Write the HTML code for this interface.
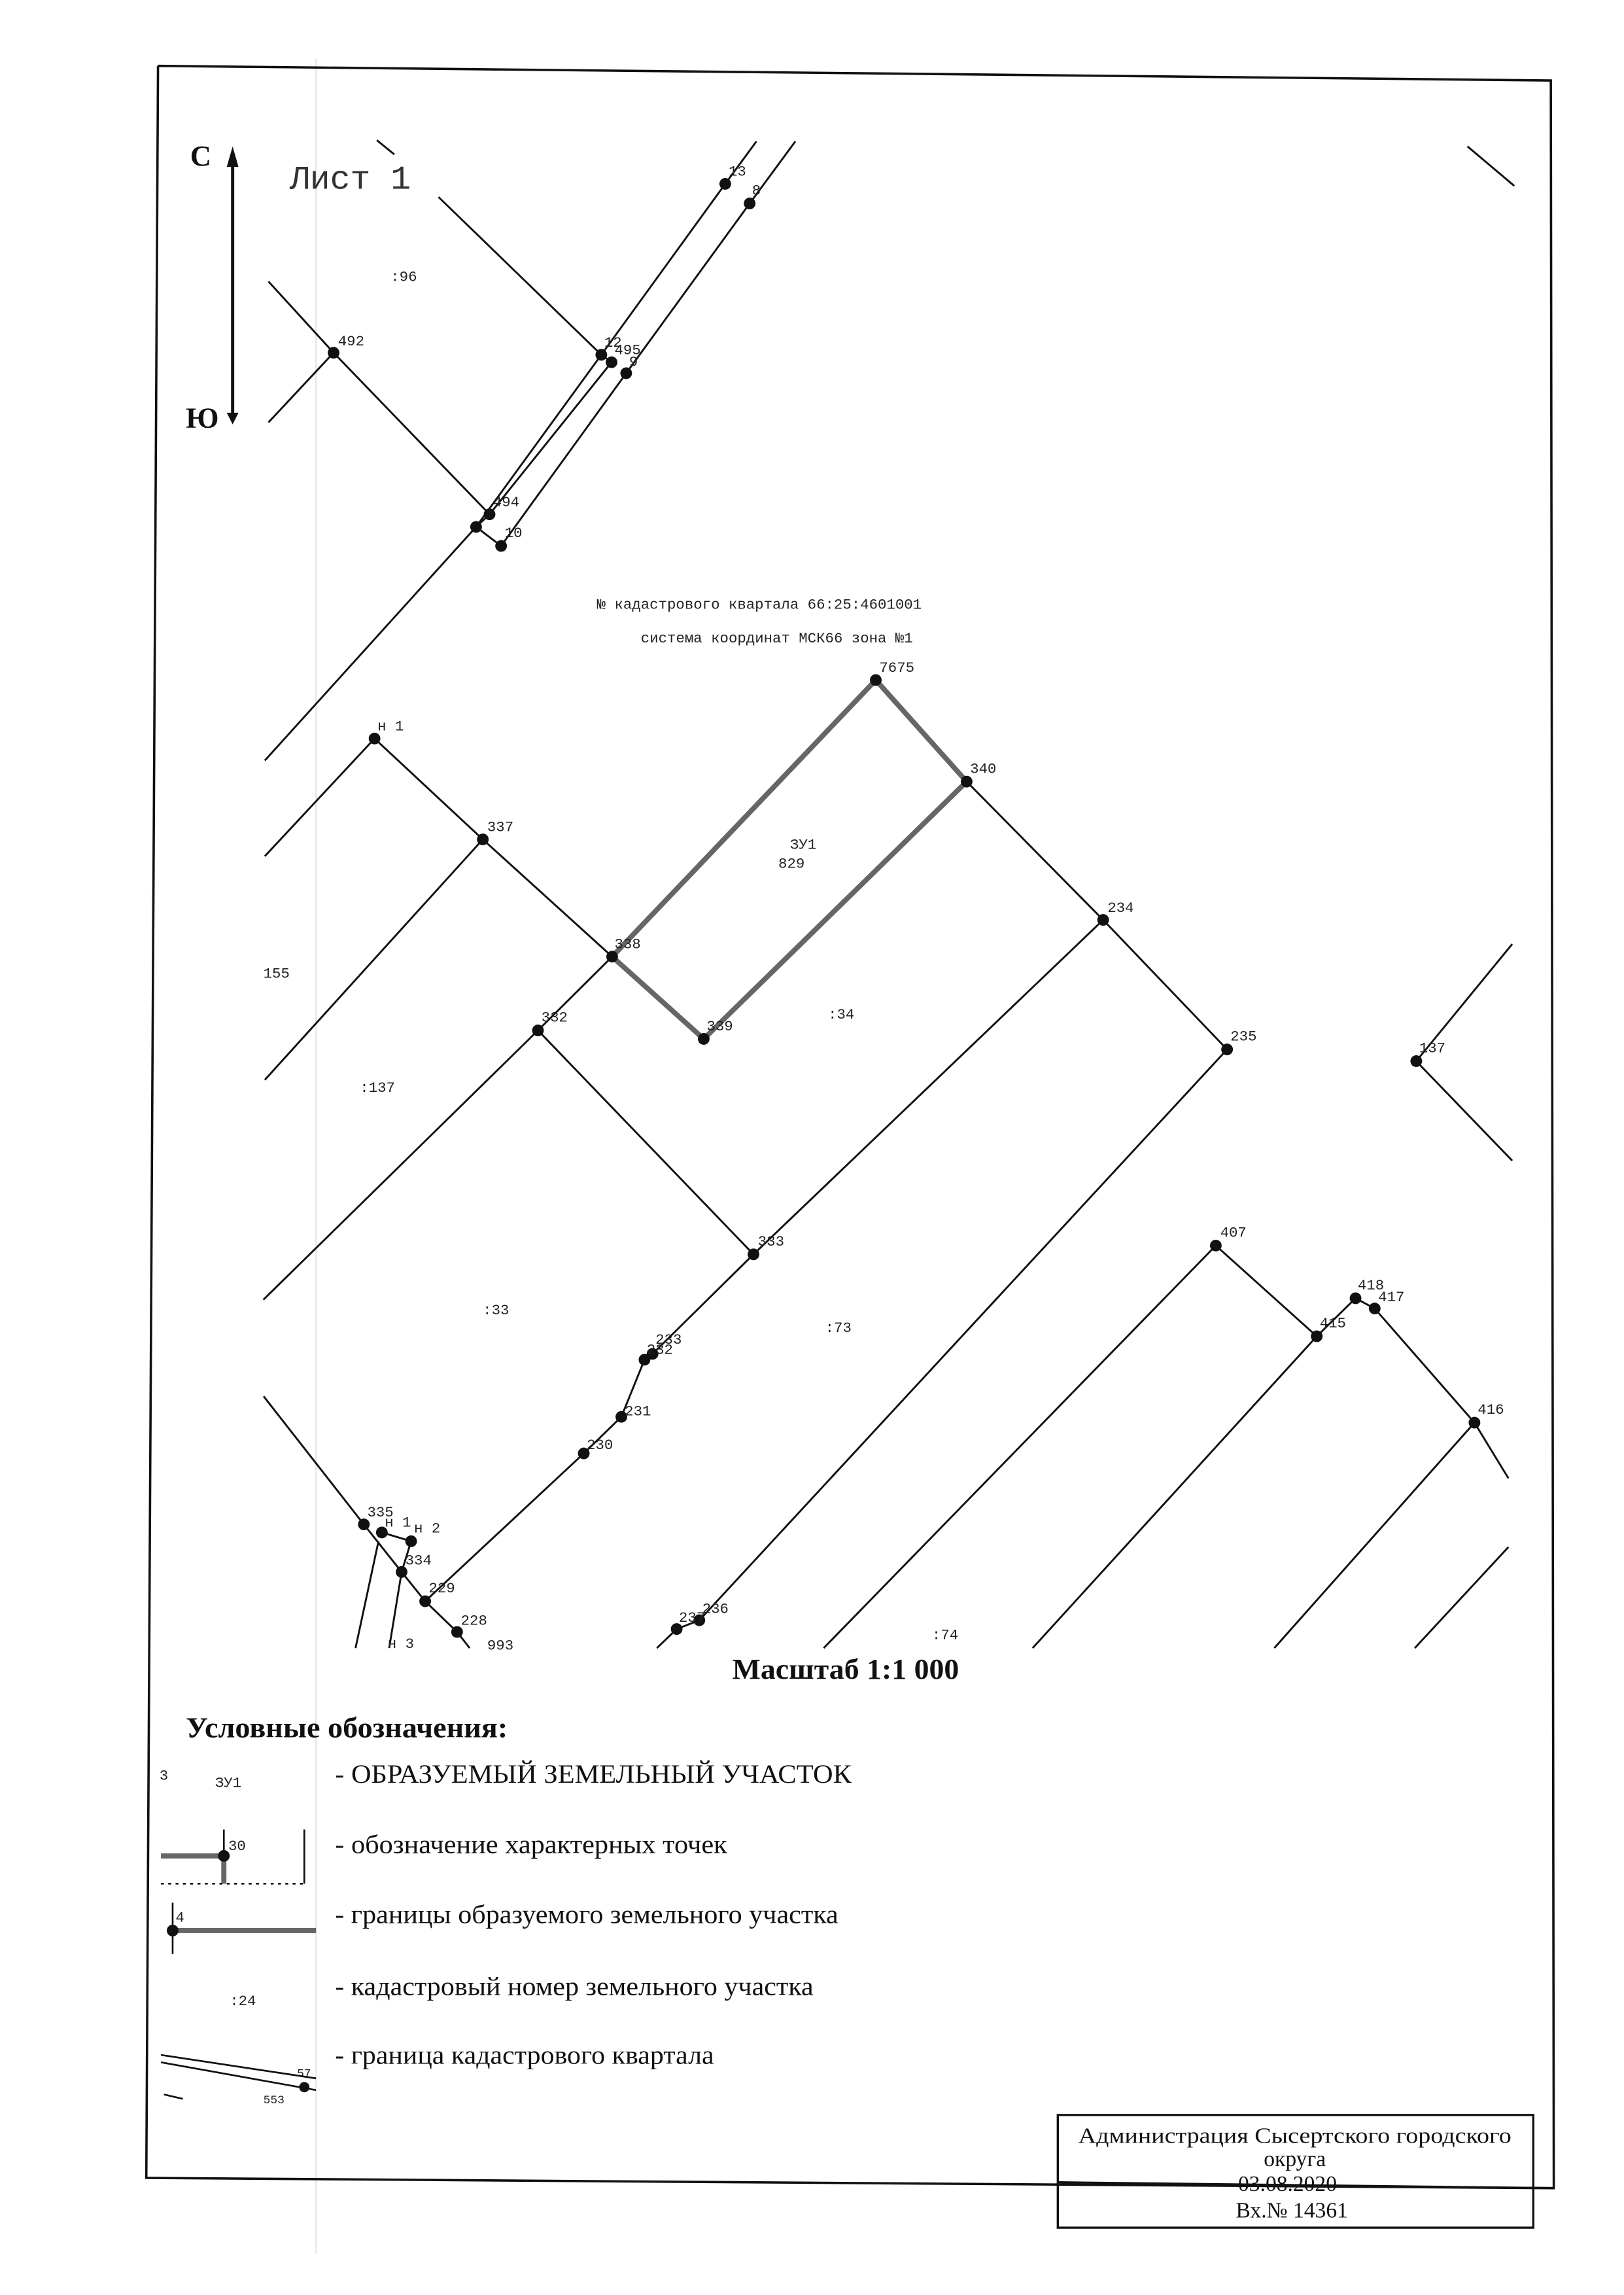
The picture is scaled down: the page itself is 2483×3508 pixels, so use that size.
<!DOCTYPE html>
<html><head><meta charset="utf-8"><style>
html,body{margin:0;padding:0;background:#fff;}
svg{display:block;}
.m{font-family:"Liberation Mono",monospace;font-size:10px;fill:#222;}
.s{font-family:"Liberation Serif",serif;fill:#111;}
</style></head><body>
<svg width="2483" height="3508" viewBox="0 0 1110 1568" preserveAspectRatio="none" xmlns="http://www.w3.org/2000/svg">
<rect width="1110" height="1568" fill="#fff"/>
<line x1="216" y1="40" x2="216" y2="1540" stroke="#e6e6e6" stroke-width="1"/>
<g stroke="#111" fill="none" stroke-width="1.6">
<polyline points="108,45 1060,55 1062,1495 100,1488 108,45"/>
</g>
<line x1="159" y1="108" x2="159" y2="284" stroke="#111" stroke-width="2.2"/>
<polygon points="159,100 155,114 163,114" fill="#111"/>
<polygon points="159,290 155,282 163,282" fill="#111"/>
<text x="130" y="113" class="s" font-size="20" font-weight="bold">С</text>
<text x="127" y="292" class="s" font-size="20" font-weight="bold">Ю</text>
<text x="198" y="129" font-family="Liberation Mono,monospace" font-size="23" fill="#333">Лист 1</text>
<g stroke="#111" stroke-width="1.3" fill="none">
<line x1="257.6" y1="95.8" x2="269.5" y2="105.5"/>
<line x1="1003" y1="100" x2="1035" y2="127"/>
<polyline points="517,96.6 495.7,125.6 411,242.4 325.4,360"/>
<polyline points="543.6,96.6 512.4,139 428,255 342.5,373 325.4,360"/>
<polyline points="411,242.4 418,247.5 334.6,351.4 325.4,360 181,519.6"/>
<polyline points="299.7,134.6 411,242.4"/>
<polyline points="183.5,192.3 228,241 334.6,351.4"/>
<line x1="183.5" y1="288.6" x2="228" y2="241"/>
<polyline points="181,585 256,504.6"/>
<polyline points="256,504.6 330,573.5 418.4,653.6"/>
<line x1="330" y1="573.5" x2="181" y2="737.8"/>
<polyline points="418.4,653.6 367.7,704 180,888"/>
<polyline points="367.7,704 515,857 754,628.5"/>
<polyline points="660.7,534 754,628.5 838.7,717 478,1107"/>
<polyline points="1033.6,645 968,725 1033.6,793"/>
<polyline points="515,857 446,925 440.5,929 424.7,968 399,993 290.6,1094"/>
<polyline points="180.2,954 248.7,1041.5 274.5,1074 290.6,1094 312.4,1115 321,1126"/>
<polyline points="261,1047 281,1053 274.5,1074"/>
<line x1="258.7" y1="1053" x2="243" y2="1126"/>
<line x1="274.5" y1="1074" x2="266" y2="1126"/>
<polyline points="449,1126 462.5,1113 478,1107"/>
<polyline points="563,1126 831,851 900,913"/>
<line x1="900" y1="913" x2="926.5" y2="887"/>
<polyline points="926.5,887 939.6,894 1007.8,972 1031,1010"/>
<line x1="900" y1="913" x2="705.8" y2="1126"/>
<line x1="1007.8" y1="972" x2="871" y2="1126"/>
<line x1="1031" y1="1057" x2="967" y2="1126"/>
</g>
<polygon points="418.4,653.6 598.6,464.6 660.7,534 481,709.8" fill="none" stroke="#666" stroke-width="3.5"/>
<g fill="#111">
<circle cx="495.7" cy="125.6" r="4"/><circle cx="512.4" cy="139" r="4"/><circle cx="411" cy="242.4" r="4"/>
<circle cx="418" cy="247.5" r="4"/><circle cx="428" cy="255" r="4"/><circle cx="228" cy="241" r="4"/>
<circle cx="334.6" cy="351.4" r="4"/><circle cx="325.4" cy="360" r="4"/><circle cx="342.5" cy="373" r="4"/>
<circle cx="256" cy="504.6" r="4"/><circle cx="330" cy="573.5" r="4"/><circle cx="418.4" cy="653.6" r="4"/>
<circle cx="367.7" cy="704" r="4"/><circle cx="598.6" cy="464.6" r="4"/><circle cx="660.7" cy="534" r="4"/>
<circle cx="481" cy="709.8" r="4"/><circle cx="754" cy="628.5" r="4"/><circle cx="838.7" cy="717" r="4"/>
<circle cx="968" cy="725" r="4"/><circle cx="515" cy="857" r="4"/><circle cx="446" cy="925" r="4"/>
<circle cx="440.5" cy="929" r="4"/><circle cx="424.7" cy="968" r="4"/><circle cx="399" cy="993" r="4"/>
<circle cx="248.7" cy="1041.5" r="4"/><circle cx="261" cy="1047" r="4"/><circle cx="281" cy="1053" r="4"/>
<circle cx="274.5" cy="1074" r="4"/><circle cx="290.6" cy="1094" r="4"/><circle cx="312.4" cy="1115" r="4"/>
<circle cx="462.5" cy="1113" r="4"/><circle cx="478" cy="1107" r="4"/><circle cx="831" cy="851" r="4"/>
<circle cx="900" cy="913" r="4"/><circle cx="926.5" cy="887" r="4"/><circle cx="939.6" cy="894" r="4"/>
<circle cx="1007.8" cy="972" r="4"/>
</g>
<g class="m">
<text x="498" y="120">13</text><text x="514" y="133">8</text><text x="413" y="237">12</text>
<text x="420" y="242">495</text><text x="430" y="250">9</text><text x="231" y="236">492</text>
<text x="337" y="346">494</text><text x="345" y="367">10</text><text x="267" y="192">:96</text>
<text x="258" y="499">н 1</text><text x="333" y="568">337</text><text x="420" y="648">338</text>
<text x="370" y="698">332</text><text x="601" y="459">7675</text><text x="663" y="528">340</text>
<text x="483" y="704">339</text><text x="757" y="623">234</text><text x="841" y="711">235</text>
<text x="970" y="719">137</text><text x="518" y="851">333</text><text x="448" y="918">233</text>
<text x="442" y="925">232</text><text x="427" y="967">231</text><text x="401" y="990">230</text>
<text x="251" y="1036">335</text><text x="263" y="1043">н 1</text><text x="283" y="1047">н 2</text>
<text x="277" y="1069">334</text><text x="293" y="1088">229</text><text x="315" y="1110">228</text>
<text x="464" y="1108">237</text><text x="480" y="1102">236</text><text x="834" y="845">407</text>
<text x="902" y="907">415</text><text x="928" y="881">418</text><text x="942" y="889">417</text>
<text x="1010" y="966">416</text><text x="265" y="1126">н 3</text><text x="333" y="1127">993</text>
<text x="540" y="580">ЗУ1</text><text x="532" y="593">829</text><text x="566" y="696">:34</text>
<text x="246" y="746">:137</text><text x="180" y="668">155</text><text x="330" y="898">:33</text>
<text x="564" y="910">:73</text><text x="637" y="1120">:74</text>
<text x="408" y="416">№ кадастрового квартала 66:25:4601001</text>
<text x="438" y="439">система координат МСК66 зона №1</text>
</g>
<text x="578" y="1147" class="s" font-size="20" font-weight="bold" text-anchor="middle" textLength="155" lengthAdjust="spacingAndGlyphs">Масштаб 1:1 000</text>
<text x="127" y="1187" class="s" font-size="20" font-weight="bold" textLength="220" lengthAdjust="spacingAndGlyphs">Условные обозначения:</text>
<g class="s" font-size="18">
<text x="229" y="1218" textLength="353" lengthAdjust="spacingAndGlyphs">- ОБРАЗУЕМЫЙ ЗЕМЕЛЬНЫЙ УЧАСТОК</text>
<text x="229" y="1266" textLength="268" lengthAdjust="spacingAndGlyphs">- обозначение характерных точек</text>
<text x="229" y="1314" textLength="344" lengthAdjust="spacingAndGlyphs">- границы образуемого земельного участка</text>
<text x="229" y="1363" textLength="327" lengthAdjust="spacingAndGlyphs">- кадастровый номер земельного участка</text>
<text x="229" y="1410" textLength="259" lengthAdjust="spacingAndGlyphs">- граница кадастрового квартала</text>
</g>
<g class="m">
<text x="109" y="1216">3</text><text x="147" y="1221">ЗУ1</text>
<text x="156" y="1264">30</text><text x="120" y="1313">4</text><text x="157" y="1370">:24</text>
<text x="203" y="1419" font-size="8">57</text><text x="180" y="1437" font-size="8">553</text>
</g>
<g stroke="#666" stroke-width="3.5">
<line x1="110" y1="1268" x2="153" y2="1268"/><line x1="153" y1="1268" x2="153" y2="1287"/>
<line x1="118" y1="1319" x2="216" y2="1319"/>
</g>
<g stroke="#111" stroke-width="1.2">
<line x1="153" y1="1250" x2="153" y2="1268"/><line x1="208" y1="1250" x2="208" y2="1287"/>
<line x1="110" y1="1287" x2="208" y2="1287" stroke-dasharray="2,3"/>
<line x1="118" y1="1300" x2="118" y2="1335"/>
<line x1="110" y1="1404" x2="216" y2="1420"/><line x1="110" y1="1409" x2="216" y2="1428"/>
<line x1="112" y1="1431" x2="125" y2="1434"/>
</g>
<circle cx="153" cy="1268" r="4" fill="#111"/><circle cx="118" cy="1319" r="4" fill="#111"/><circle cx="208" cy="1426" r="3.5" fill="#111"/>
<rect x="723" y="1445" width="325" height="77" fill="none" stroke="#111" stroke-width="1.5"/>
<line x1="723" y1="1491" x2="1062" y2="1495" stroke="#111" stroke-width="1.5"/>
<g class="s" font-size="15" text-anchor="middle">
<text x="885" y="1464" textLength="296" lengthAdjust="spacingAndGlyphs">Администрация Сысертского городского</text>
<text x="885" y="1480">округа</text>
<text x="880" y="1497">03.08.2020</text>
<text x="883" y="1515">Вх.№ 14361</text>
</g>
</svg>
</body></html>
